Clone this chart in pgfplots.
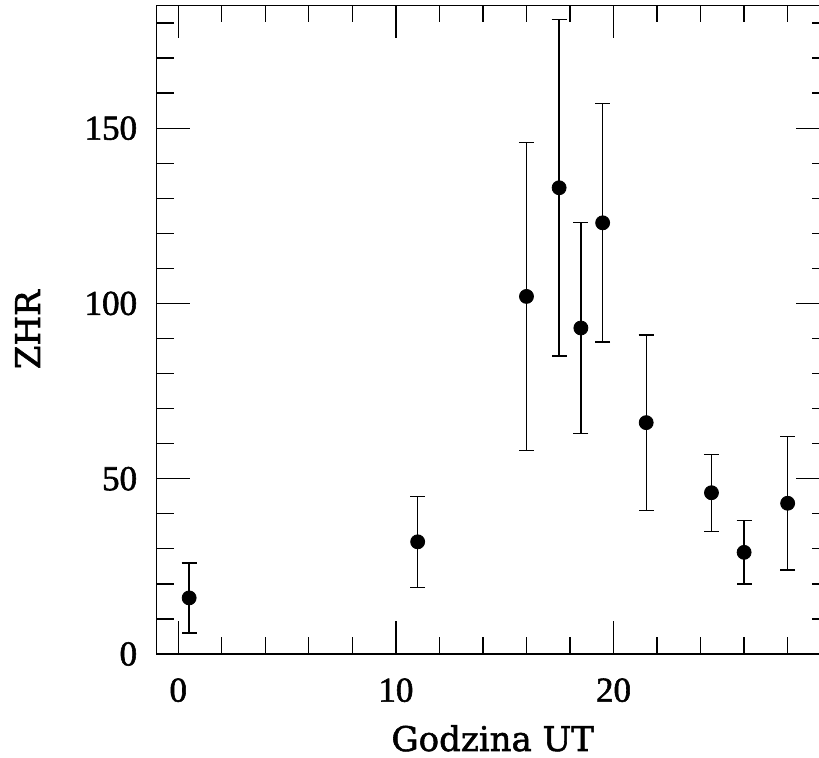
\documentclass[border=0pt]{standalone}
\usepackage{fontspec}
\setmainfont[FakeBold=1.6]{DejaVu Serif}
\newfontfamily\tickfont[FakeBold=1.6]{Liberation Serif}
\usepackage{pgfplots}
\usepackage{pgfplotstable}
\pgfplotsset{compat=1.18}
\pgfplotstableread{
x y ep em
0.5 16 10 10
11 32 13 13
16 102 44 44
17.5 133 48 48
18.5 93 30 30
19.5 123 34 34
21.5 66 25 25
24.5 46 11 11
26 29 9 9
28 43 19 19
}\zhrdata
\begin{document}
\begin{tikzpicture}
\begin{axis}[
  at={(0,0)}, anchor=south west,
  scale only axis, width=336.25pt, height=324.25pt,
  xmin=-1, xmax=29.9, ymin=0, ymax=185,
  xtick={0,10,20}, minor xtick={2,4,...,28},
  ytick={0,50,100,150}, minor ytick={10,20,...,180},
  major tick length=16.5pt, minor tick length=8.5pt,
  tick align=inside,
  axis line style={line width=0.75pt},
  every tick/.style={black, line width=0.65pt},
  tick label style={font=\tickfont\fontsize{17.5}{20}\selectfont, inner sep=0pt},
  /pgf/number format/assume math mode=true,
  xticklabel style={yshift=-12pt},
  yticklabel style={xshift=-9.5pt},
  xlabel={Godzina UT}, ylabel={ZHR},
  label style={font=\fontsize{17}{20}\selectfont, inner sep=0pt},
  xlabel style={at={(axis description cs:0.5,0)}, anchor=base, yshift=-48.5pt},
  ylabel style={at={([xshift=-58.25pt]axis description cs:0,0.5)}, anchor=base},
]
\addplot[only marks, mark=*, mark size=3.5pt, black,
  error bars/.cd, y dir=both, y explicit,
  error bar style={line width=0.65pt, black},
  error mark options={rotate=90, mark size=3.75pt, line width=0.65pt, black}]
  table[x=x, y=y, y error plus=ep, y error minus=em] {\zhrdata};
\end{axis}
\pgfresetboundingbox
\path[use as bounding box] (-78.25pt,-52pt) rectangle (331.25pt,327pt);
\end{tikzpicture}
\end{document}
